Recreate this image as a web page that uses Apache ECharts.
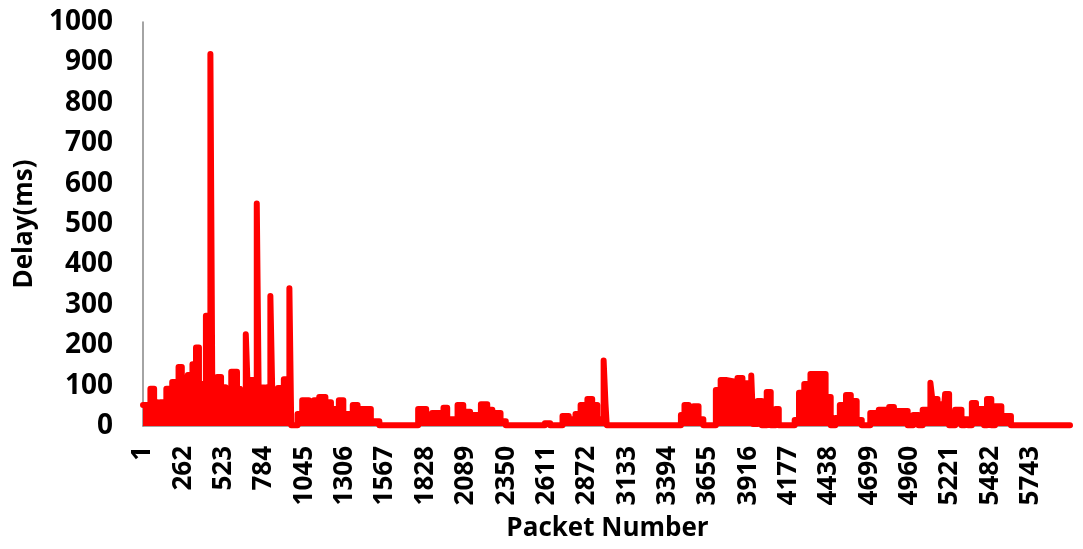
<!DOCTYPE html>
<html>
<head>
<meta charset="utf-8">
<script src="https://cdn.jsdelivr.net/npm/echarts@6/dist/echarts.min.js"></script>
<style>
  html, body { margin: 0; background: #fff; }
  #chart { width: 1083px; height: 549px; }
</style>
</head>
<body>
<div id="chart"></div>
<script>
// each entry starts a run of packets at that delay; the run lasts until the next entry
const packetNo = [
  0, 48, 72, 94, 113, 151, 189, 208, 230, 251, 260, 290, 320, 343, 362, 407, 436, 448, 480, 505,
  534, 571, 608, 627, 665, 677, 696, 736, 748, 788, 824, 836, 873, 911, 947, 959, 1000, 1030, 1073, 1106,
  1122, 1140, 1180, 1216, 1232, 1267, 1296, 1357, 1388, 1474, 1529, 1780, 1832, 1870, 1944, 1968, 2035, 2072, 2085, 2116,
  2186, 2227, 2260, 2313, 2347, 2600, 2634, 2714, 2754, 2798, 2831, 2875, 2906, 2939, 2980, 2992, 3000, 3480, 3503, 3530,
  3561, 3594, 3625, 3706, 3737, 3771, 3814, 3846, 3878, 3918, 3935, 3947, 3976, 4003, 4035, 4061, 4093, 4113, 4216, 4244,
  4278, 4318, 4416, 4449, 4479, 4508, 4548, 4579, 4617, 4650, 4705, 4760, 4827, 4858, 4947, 4983, 5017, 5044, 5094, 5106,
  5140, 5178, 5189, 5215, 5254, 5295, 5317, 5338, 5362, 5389, 5441, 5460, 5488, 5512, 5553, 5615, 5997
];
const delayMs = [
  52, 92, 59, 42, 59, 92, 109, 95, 146, 100, 79, 126, 153, 194, 104, 273, 921, 109, 121, 96,
  84, 134, 92, 75, 227, 95, 114, 551, 95, 97, 322, 88, 94, 116, 341, 2, 30, 64, 57, 64,
  67, 72, 59, 27, 42, 64, 30, 52, 42, 12, 2, 42, 15, 32, 45, 17, 52, 17, 35, 27,
  54, 40, 32, 12, 2, 7, 2, 25, 17, 30, 52, 67, 52, 17, 162, 55, 2, 27, 52, 30,
  49, 17, 2, 89, 114, 111, 109, 119, 106, 40, 125, 5, 62, 2, 84, 2, 42, 2, 15, 82,
  104, 129, 72, 2, 20, 52, 77, 62, 15, 2, 32, 40, 47, 37, 2, 27, 2, 40, 107, 67,
  54, 25, 79, 2, 40, 2, 17, 2, 57, 42, 2, 67, 2, 49, 25, 2, 2
];
const xTickLabels = ['1', '262', '523', '784', '1045', '1306', '1567', '1828', '2089', '2350', '2611', '2872',
  '3133', '3394', '3655', '3916', '4177', '4438', '4699', '4960', '5221', '5482', '5743'];
const xStep = 261;
const yMax = 1000;
const yStep = 100;

const chart = echarts.init(document.getElementById('chart'));
const font = '"Open Sans", Lato, sans-serif';

chart.setOption({
  animation: false,
  grid: { left: 143, right: 11, top: 22, bottom: 123 },
  xAxis: {
    type: 'value',
    min: 0,
    max: 6010,
    interval: xStep,
    name: 'Packet Number',
    nameLocation: 'middle',
    nameGap: 90,
    nameTextStyle: { color: '#000', fontSize: 26, fontWeight: 'bold', fontFamily: font },
    axisLine: { show: true, onZero: false, lineStyle: { color: '#868686', width: 1.5 } },
    axisTick: { show: false },
    splitLine: { show: false },
    axisLabel: {
      rotate: 90,
      margin: 20,
      color: '#000',
      fontSize: 26,
      fontWeight: 'bold',
      fontFamily: font,
      showMaxLabel: false,
      formatter: (v) => (v % xStep === 0 ? xTickLabels[v / xStep] || '' : '')
    }
  },
  yAxis: {
    type: 'value',
    min: 0,
    max: yMax,
    interval: yStep,
    name: 'Delay(ms)',
    nameLocation: 'middle',
    nameGap: 98,
    nameTextStyle: { color: '#000', fontSize: 26, fontWeight: 'bold', fontFamily: font },
    axisLine: { show: true, lineStyle: { color: '#868686', width: 1.5 } },
    axisTick: { show: false },
    splitLine: { show: false },
    axisLabel: {
      margin: 30, color: '#000', fontSize: 28, fontWeight: 'bold', fontFamily: font,
      formatter: (v) => String(v)
    }
  },
  series: [
    {
      type: 'line',
      step: 'end',
      data: packetNo.map((p, i) => [p, delayMs[i]]),
      showSymbol: false,
      lineStyle: { color: '#ff0000', width: 6, cap: 'round', join: 'round' },
      areaStyle: { color: '#ff0000', opacity: 1 },
      z: 1
    }
  ]
});
</script>
</body>
</html>
